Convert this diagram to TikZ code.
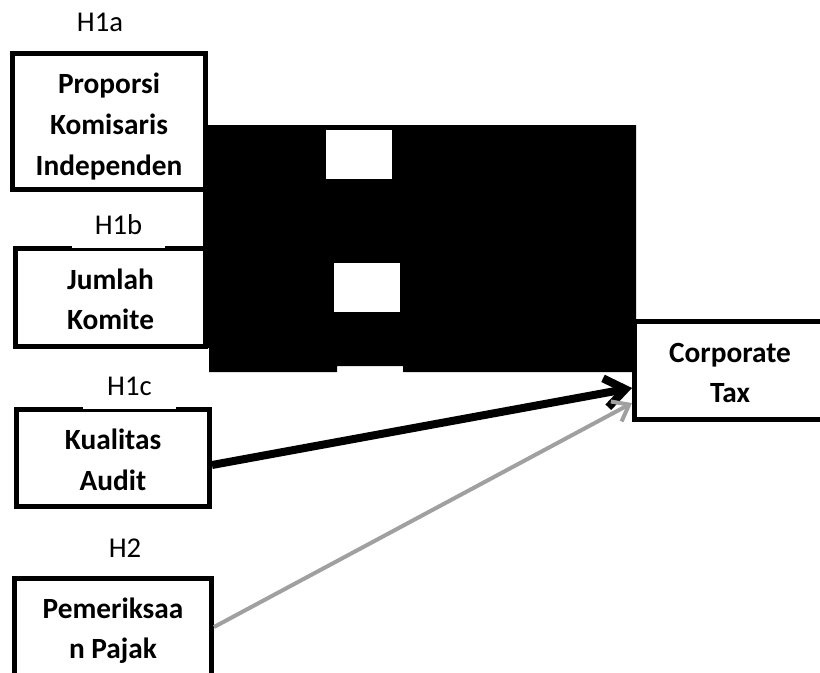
\documentclass[tikz,border=0pt]{standalone}
\usepackage{fontspec}
\setmainfont{Carlito}
\usetikzlibrary{arrows.meta}
\definecolor{lightgrey}{RGB}{160,160,160}

\newcommand{\topgap}[1]{\rule{0pt}{#1}}

\begin{document}
\begin{tikzpicture}[
        x=0.75pt, y=-0.75pt,
        every node/.style={font=\fontsize{21.5}{30}\selectfont},
        var/.style={draw, rectangle, line width=3.75pt, fill=white, inner sep=0pt, align=center, font=\fontsize{22}{30.5}\selectfont\bfseries},
        hyp/.style={fill=white, inner sep=0pt, minimum width=69.75pt, minimum height=34.5pt},
        arrow/.style={->, line width=6pt, >={Straight Barb[length=15pt, width=22pt]}},
        greyarrow/.style={->, lightgrey, line width=3pt, >={Straight Barb[length=11pt, width=17pt]}}
    ]
        \useasboundingbox (0,0) rectangle (820,672);

        % Independent variables - left column
        \node[var, minimum width=144.75pt, minimum height=102pt] (komisaris) at (109,121.5) {\topgap{23pt}Proporsi\\Komisaris\\Independen};
        \node[var, minimum width=142.5pt, minimum height=73.5pt] (komite) at (110.5,297.5) {\topgap{18pt}Jumlah\\Komite};
        \node[var, minimum width=144.75pt, minimum height=72.75pt] (audit) at (113,458) {\topgap{18pt}Kualitas\\Audit};
        \node[var, minimum width=147.75pt, minimum height=75.75pt] (pemeriksaan) at (113,629) {\topgap{18pt}Pemeriksaa\\n Pajak};

        % Dependent variable
        \node[var, minimum width=143.25pt, minimum height=73.5pt] (tax) at (730,370.5) {\topgap{18pt}Corporate\\Tax};

        % Hypothesis labels
        \node[hyp] (h1a) at (100,22) {H1a};
        \node[hyp] (h1b) at (118.5,225) {H1b};
        \node[hyp] (h1c) at (129.5,386) {H1c};
        \node[hyp] (h2) at (125,548) {H2};

        % Black block
        \fill[black] (203,125) -- (636,125) -- (636,372) -- (403,372) -- (403,366) -- (337,366)
            -- (337,372) -- (209,372) -- (209,348) -- (203,348) -- cycle;
        \fill[white] (326,130) rectangle (392,179);
        \fill[white] (334,263) rectangle (400,312);

        % Arrows
        \draw[arrow] ([yshift=-5.25pt]audit.east) -- ([yshift=-13.1pt]tax.west);
        \draw[greyarrow] ([yshift=1.5pt]pemeriksaan.east) -- ([yshift=-24.4pt]tax.west);
    \end{tikzpicture}
\end{document}
